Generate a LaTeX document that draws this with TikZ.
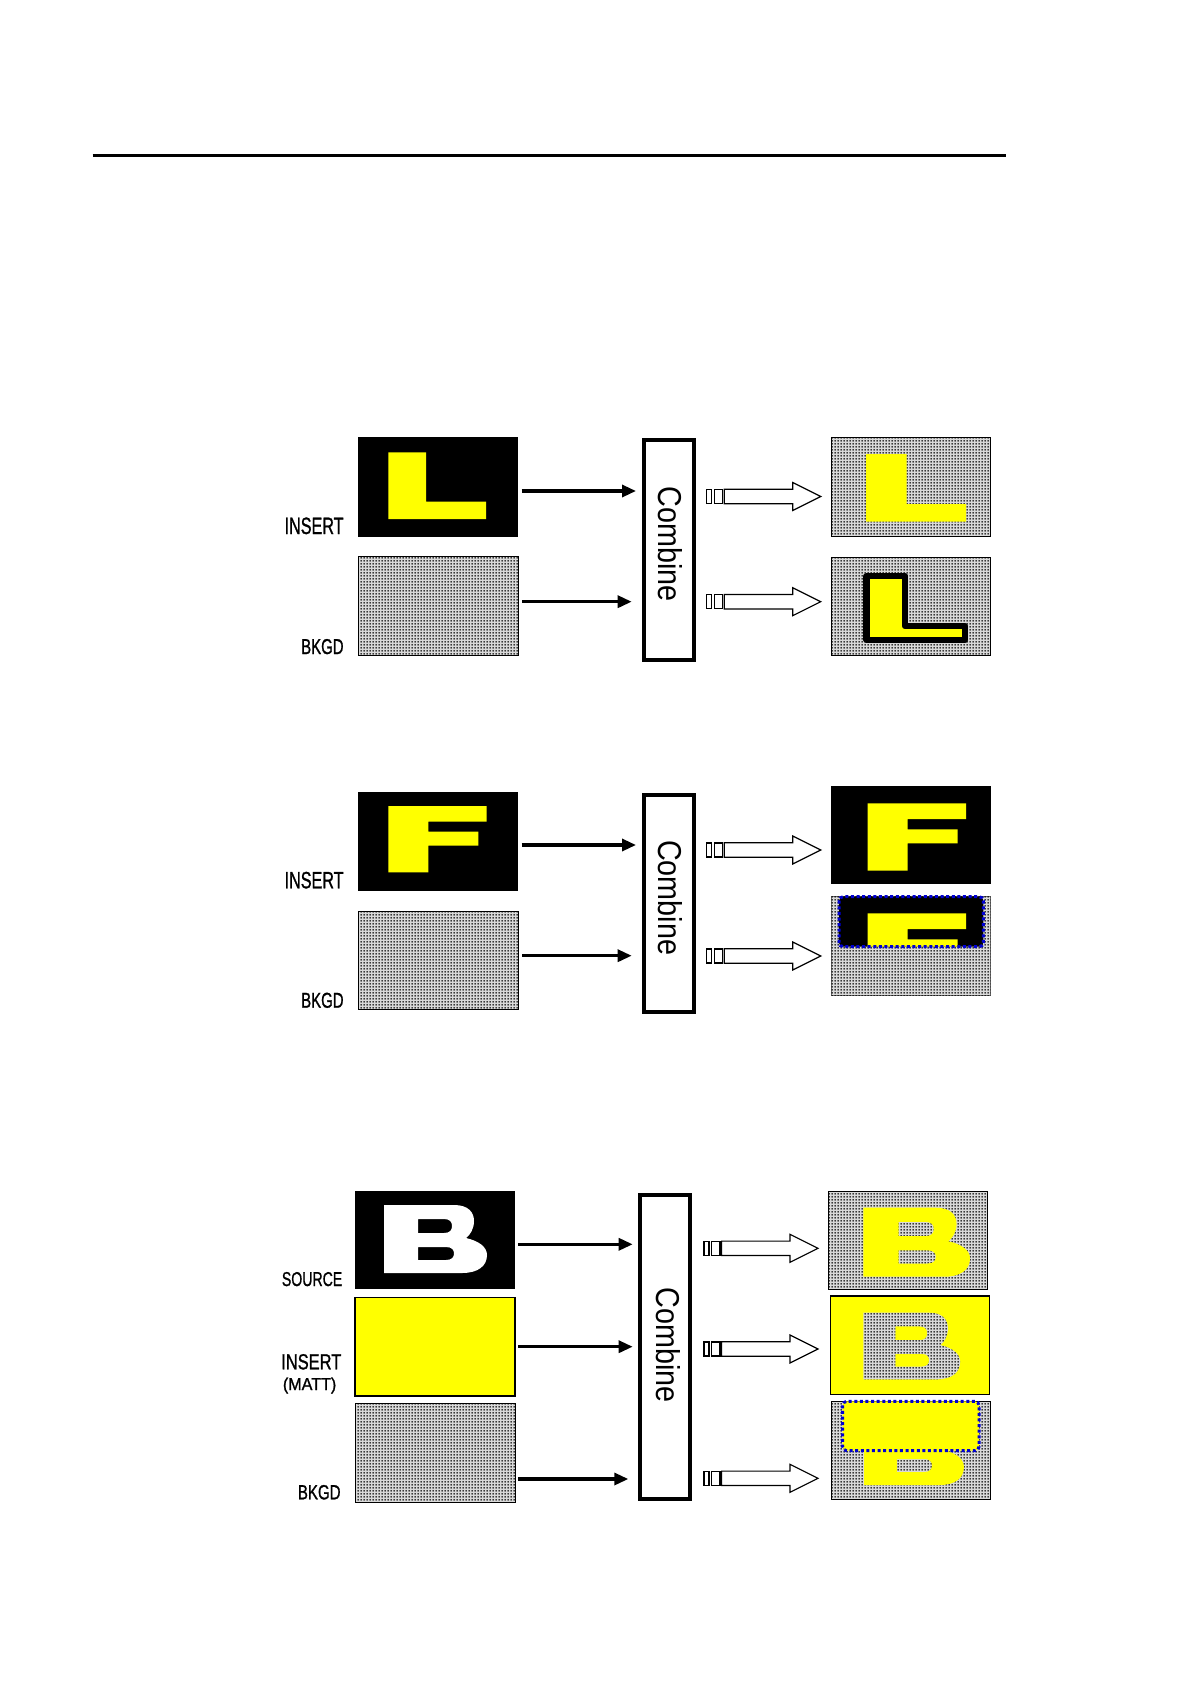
\documentclass[tikz,border=0pt]{standalone}
\usepackage{fontspec}
\setmainfont{Liberation Sans}
\newfontfamily\lblfont[FakeBold=1.2]{Liberation Sans}
\usepackage{graphicx}
\usetikzlibrary{arrows.meta,patterns}
\pgfdeclarepatternformonly{halftone}{\pgfqpoint{0pt}{0pt}}{\pgfqpoint{1.5pt}{1.5pt}}{\pgfqpoint{1.5pt}{1.5pt}}{\pgfpathcircle{\pgfqpoint{0.75pt}{0.75pt}}{0.55pt}\pgfusepath{fill}}
\definecolor{ylw}{RGB}{255,255,0}
\definecolor{dotblue}{RGB}{0,0,210}
\newcommand{\frm}[6]{\node[frame, minimum width=#4*0.5pt, minimum height=#5*0.5pt, #6] (#1) at (#2,#3) {};}
\tikzset{
 htfill/.style={fill=black!15, postaction={pattern=halftone, pattern color=black}},
 frame/.style={rectangle, inner sep=0pt, outer sep=0pt, anchor=north west},
 blk/.style={line width=1.6pt, -{Triangle[length=7pt,width=6pt]}},
 combbox/.style={rectangle, draw, line width=2pt, inner sep=0pt, outer sep=0pt, anchor=north west},
 lbl/.style={anchor=base east, inner sep=0pt, font=\lblfont},
 ctext/.style={rotate=-90, inner sep=0pt},
 dotline/.style={draw=dotblue, line width=1.5pt, dash pattern=on 1.5pt off 1.3pt, rounded corners=2pt},
 Bglyph/.pic={\path[#1, even odd rule]
   (0,0) -- (70,0) .. controls (84,0) and (90,7) .. (90,16)
   .. controls (90,24) and (86,30) .. (82,33)
   .. controls (95,36) and (103,42) .. (103,50)
   .. controls (103,61) and (94,68) .. (78,68) -- (0,68) -- cycle
   (34,14) -- (60,14) .. controls (66,14) and (68,17) .. (68,21)
   .. controls (68,25) and (66,28) .. (60,28) -- (34,28) -- cycle
   (34,42) -- (62,42) .. controls (68,42) and (70,45) .. (70,48.5)
   .. controls (70,52) and (68,55) .. (62,55) -- (34,55) -- cycle;},
 hollow/.pic={
   \draw[line width=0.6pt] (0,-7) rectangle (5,7);
   \draw[line width=0.6pt] (7.6,-7) rectangle (16,7);
   \draw[line width=0.6pt, line join=miter] (17.6,-7.2) -- (86,-7.2) -- (86,-14) -- (114,0) -- (86,14) -- (86,7.2) -- (17.6,7.2) -- cycle;}
}
\begin{document}
\begin{tikzpicture}[x=0.5pt,y=-0.5pt]
\fill[white] (0,0) rectangle (1190,1684);
\useasboundingbox (0,0) rectangle (1190,1684);
% top rule
\draw[line width=1.5pt] (92.7,156) -- (1006,156);

% ===== Section 1 (L) =====
\frm{ins1}{357.7}{437.3}{160}{99.4}{fill=black}
\fill[ylw] (388.3,452.3) -- (426,452.3) -- (426,501.7) -- (486,501.7) -- (486,519) -- (388.3,519) -- cycle;
\frm{bk1}{358}{556.7}{160}{99}{htfill, draw, line width=0.5pt}
\node[combbox, minimum width=50.3*0.5pt, minimum height=220*0.5pt] (comb1) at (643.7,440.3) {};
\node[ctext] (ct1) at (670.3,544) {\resizebox{57.5pt}{12pt}{Combine}};
\node[lbl] (lab1i) at (344,534) {\resizebox{29.5pt}{8.25pt}{INSERT}};
\node[lbl] (lab1b) at (344,654) {\resizebox{21.2pt}{7.5pt}{BKGD}};
\draw[blk, shorten <=2pt, shorten >=3.85pt] (ins1.east |- 0,491) -- (comb1.west |- 0,491);
\draw[blk, shorten <=2pt, shorten >=6pt] (bk1.east |- 0,601.7) -- (comb1.west |- 0,601.7);
\pic at (706.7,496.5) {hollow};
\pic at (706.7,601.7) {hollow};
\frm{out1a}{831.7}{437.3}{159}{99.4}{htfill, draw, line width=0.5pt}
\fill[ylw] (866,454) -- (906.7,454) -- (906.7,504) -- (966,504) -- (966,521.7) -- (866,521.7) -- cycle;
\frm{out1b}{831.7}{557.3}{159}{98.4}{htfill, draw, line width=0.5pt}
\filldraw[fill=ylw, draw=black, line width=3.3pt, line join=round] (866.7,576) -- (905,576) -- (905,626) -- (965,626) -- (965,640) -- (866.7,640) -- cycle;

% ===== Section 2 (F) =====
\frm{ins2}{357.7}{791.7}{160}{99}{fill=black}
\fill[ylw] (388.3,806) -- (486.7,806) -- (486.7,821.7) -- (428.3,821.7) -- (428.3,831.7) -- (478.3,831.7) -- (478.3,845.7) -- (428.3,845.7) -- (428.3,872.3) -- (388.3,872.3) -- cycle;
\frm{bk2}{358}{911}{160}{98.3}{htfill, draw, line width=0.5pt}
\node[combbox, minimum width=49.4*0.5pt, minimum height=216.7*0.5pt] (comb2) at (644.3,795.3) {};
\node[ctext] (ct2) at (670,897.5) {\resizebox{57.5pt}{12pt}{Combine}};
\node[lbl] (lab2i) at (344,888.3) {\resizebox{29.5pt}{8.25pt}{INSERT}};
\node[lbl] (lab2b) at (344,1007.7) {\resizebox{21.2pt}{7.5pt}{BKGD}};
\draw[blk, shorten <=2pt, shorten >=4.15pt] (ins2.east |- 0,845) -- (comb2.west |- 0,845);
\draw[blk, shorten <=2pt, shorten >=6.3pt] (bk2.east |- 0,955.7) -- (comb2.west |- 0,955.7);
\pic at (706.7,850) {hollow};
\pic at (706.7,956) {hollow};
\frm{out2a}{831}{786}{159.7}{98.3}{fill=black}
\fill[ylw] (867.7,803.3) -- (966,803.3) -- (966,819) -- (907.7,819) -- (907.7,829.3) -- (957.7,829.3) -- (957.7,843.3) -- (907.7,843.3) -- (907.7,870.7) -- (867.7,870.7) -- cycle;
\frm{out2b}{831}{896}{159.7}{99}{htfill, draw=black!60, line width=0.4pt}
\fill[black, rounded corners=2pt] (839,896.7) rectangle (983.3,946.7);
\begin{scope}
\clip[rounded corners=2pt] (839,896.7) rectangle (983.3,946.7);
\begin{scope}[shift={(0,110)}]
\fill[ylw] (867.7,803.3) -- (966,803.3) -- (966,819) -- (907.7,819) -- (907.7,829.3) -- (957.7,829.3) -- (957.7,843.3) -- (907.7,843.3) -- (907.7,870.7) -- (867.7,870.7) -- cycle;
\end{scope}
\end{scope}
\draw[dotline] (839,896.7) rectangle (983.3,946.7);

% ===== Section 3 (B) =====
\frm{src3}{355}{1191}{160}{98.3}{fill=black}
\pic at (384,1205) {Bglyph={fill=white}};
\frm{mat3}{355}{1297.3}{160}{98.7}{fill=ylw, draw, line width=0.6pt}
\frm{bk3}{355}{1403.3}{160}{99}{htfill, draw, line width=0.5pt}
\node[combbox, minimum width=49.4*0.5pt, minimum height=304.3*0.5pt] (comb3) at (640.3,1194.7) {};
\node[ctext] (ct3) at (668.7,1345) {\resizebox{57.5pt}{12pt}{Combine}};
\node[lbl] (lab3s) at (342.7,1286) {\resizebox{30.2pt}{7pt}{SOURCE}};
\node[lbl] (lab3i) at (341.7,1369.3) {\resizebox{30pt}{7.6pt}{INSERT}};
\node[lbl] (lab3m) at (336.7,1390) {\resizebox{26.7pt}{6.25pt}{(MATT)}};
\node[lbl] (lab3b) at (341,1499.3) {\resizebox{21.35pt}{7.15pt}{BKGD}};
\draw[blk, shorten <=1.65pt, shorten >=3.8pt] (src3.east |- 0,1244.3) -- (comb3.west |- 0,1244.3);
\draw[blk, shorten <=1.65pt, shorten >=3.8pt] (mat3.east |- 0,1346.7) -- (comb3.west |- 0,1346.7);
\draw[blk, shorten <=1.65pt, shorten >=6pt] (bk3.east |- 0,1479) -- (comb3.west |- 0,1479);
\pic at (704,1248.3) {hollow};
\pic at (704,1349) {hollow};
\pic at (704,1478.3) {hollow};
\frm{out3a}{828.3}{1191}{159}{98.3}{htfill, draw, line width=0.5pt}
\pic[xscale=1.036, yscale=1.015] at (863.3,1207.7) {Bglyph={fill=ylw}};
\frm{out3b}{830.7}{1296}{158.6}{98.3}{fill=ylw, draw, line width=0.6pt}
\pic[xscale=0.94, yscale=0.98] at (863.3,1312.7) {Bglyph=htfill};
\frm{out3c}{831.7}{1401}{159}{98.3}{htfill, draw, line width=0.5pt}
\pic[xscale=0.97] at (864,1417) {Bglyph={fill=ylw}};
\filldraw[fill=ylw, dotline] (842.7,1401.3) rectangle (979,1450.7);
\end{tikzpicture}
\end{document}
